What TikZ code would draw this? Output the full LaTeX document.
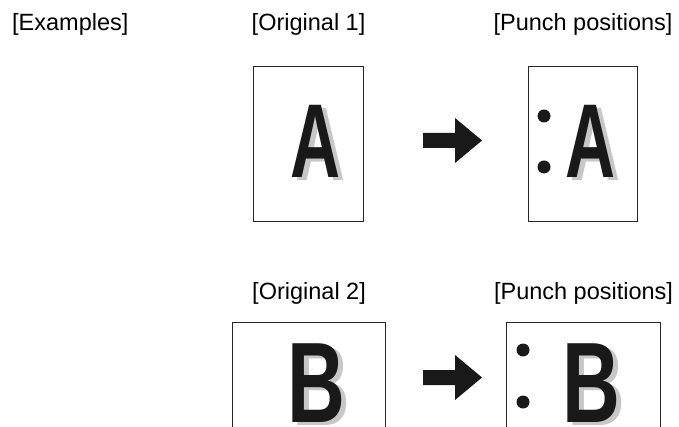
\documentclass[tikz,border=0pt]{standalone}
\usepackage{fontspec}
\setmainfont{Liberation Sans}
\begin{document}
\begin{tikzpicture}[x=1pt, y=-1pt,
    sheet/.style={draw=black!85, line width=1.1pt, inner sep=0pt, anchor=north west},
    caption/.style={font=\fontsize{23.5}{28}\selectfont, anchor=base, inner sep=0pt},
    hole/.style={circle, fill=black!90, minimum size=13pt, inner sep=0pt},
    glyph/.style={anchor=base, inner sep=0pt, text=black!90, font=\bfseries},
    shade/.style={glyph, text=black!22}
]
\clip (0,0) rectangle (679,427);

% Titel oben links
\node[caption, anchor=base west] (examples) at (12,30.5) {[Examples]};

% Erste Zeile: Hochformat
\node[sheet, minimum width=110pt, minimum height=155pt] (orig1) at (253,66) {};
\node[sheet, minimum width=109pt, minimum height=155pt] (punch1) at (528,66) {};
\node[caption] (capO1) at (orig1.north |- 0,30.5) {[Original 1]};
\node[caption] (capP1) at (punch1.north |- 0,30.5) {[Punch positions]};

% Buchstaben mit Schatten
\node[shade] (shA1) at (321,181) {\fontsize{105}{110}\selectfont\scalebox{0.66}[1]{A}};
\node[glyph] (ltA1) at (316,178) {\fontsize{105}{110}\selectfont\scalebox{0.66}[1]{A}};
\node[shade] (shA2) at (596,181) {\fontsize{105}{110}\selectfont\scalebox{0.66}[1]{A}};
\node[glyph] (ltA2) at (591,178) {\fontsize{105}{110}\selectfont\scalebox{0.66}[1]{A}};

% Zweite Zeile: Querformat (unten abgeschnitten)
\node[sheet, minimum width=153pt, minimum height=140pt] (orig2) at (232,322) {};
\node[sheet, minimum width=154pt, minimum height=140pt] (punch2) at (506,322) {};
\node[caption] (capO2) at (orig2.north |- 0,299) {[Original 2]};
\node[caption] (capP2) at (punch2.north |- 0,299) {[Punch positions]};

\node[shade] (shB1) at (321,425) {\fontsize{114.5}{120}\selectfont\scalebox{0.70}[1]{B}};
\node[glyph] (ltB1) at (316,422) {\fontsize{114.5}{120}\selectfont\scalebox{0.70}[1]{B}};
\node[shade] (shB2) at (596,425) {\fontsize{114.5}{120}\selectfont\scalebox{0.70}[1]{B}};
\node[glyph] (ltB2) at (591,422) {\fontsize{114.5}{120}\selectfont\scalebox{0.70}[1]{B}};

% Lochpositionen
\foreach \x/\y [count=\i] in {544/116, 544/167, 523/350, 523/402}
    \node[hole] (hole\i) at (\x,\y) {};

% Blockpfeile
\coordinate (arr1) at (423,140.5);
\coordinate (arr2) at (423,377.5);
\foreach \a in {arr1, arr2}
    \fill[black!90] (\a) ++(0,-7.5) -- ++(32,0) -- ++(0,-15) -- ++(27,22.5)
        -- ++(-27,22.5) -- ++(0,-15) -- ++(-32,0) -- cycle;
\end{tikzpicture}
\end{document}
